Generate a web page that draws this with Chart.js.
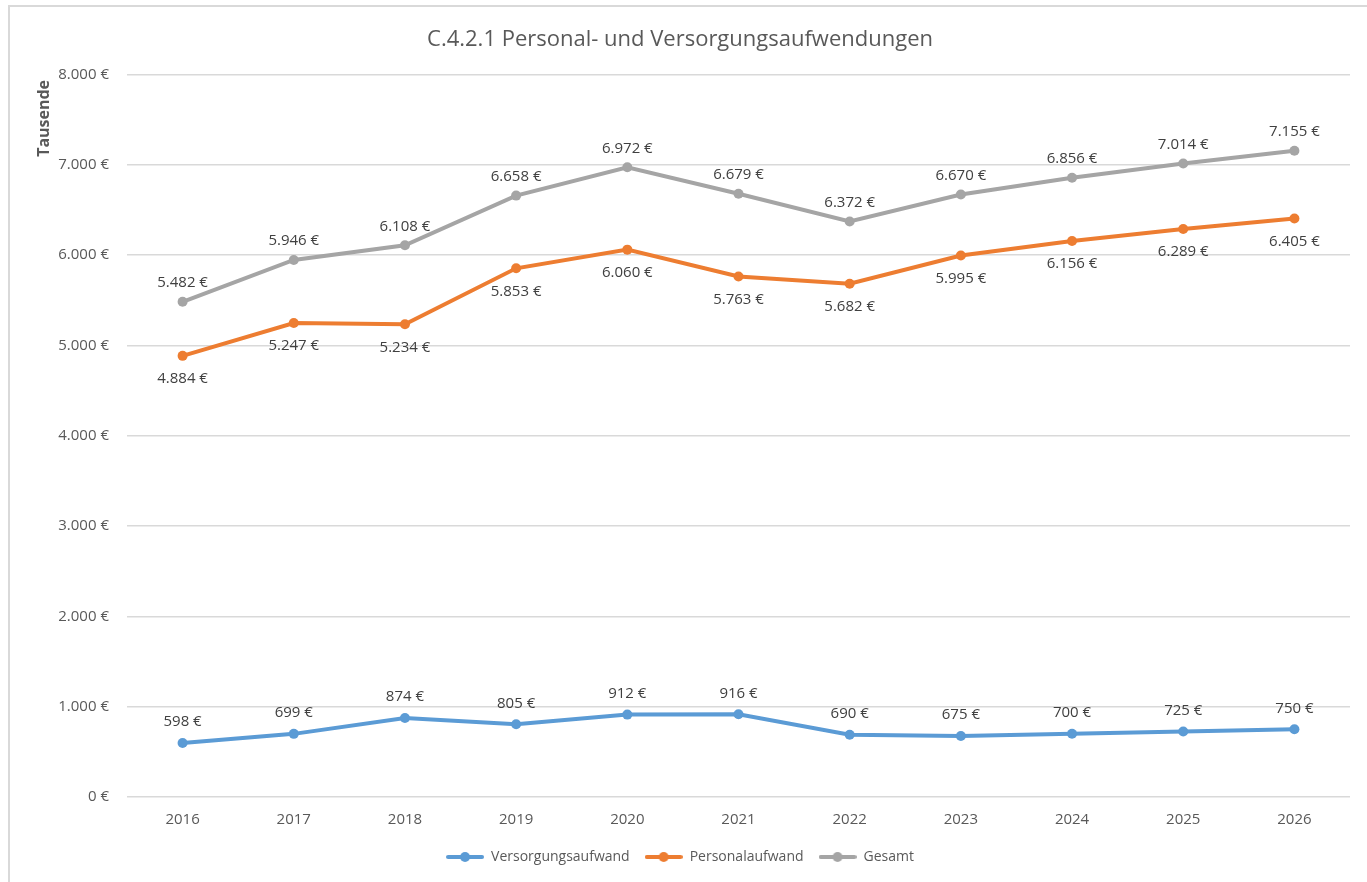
<!DOCTYPE html>
<html>
<head>
<meta charset="utf-8">
<script src="https://cdn.jsdelivr.net/npm/chart.js@4.4.1/dist/chart.umd.min.js"></script>
<style>
  body { margin: 0; background: #fff; overflow: hidden; }
  #chart-con {
    position: absolute; left: 8px; top: 5px;
    width: 1359px; height: 877px;
    border-left: 2px solid #d9d9d9; border-top: 2px solid #d9d9d9;
  }
</style>
</head>
<body>
<div id="chart-con"><canvas id="my-chart"></canvas></div>
<script>
// data (in thousand euro)
const years = ['2016', '2017', '2018', '2019', '2020', '2021', '2022', '2023', '2024', '2025', '2026'];
const versorgungsaufwand = [598, 699, 874, 805, 912, 916, 690, 675, 700, 725, 750];
const personalaufwand = [4884, 5247, 5234, 5853, 6060, 5763, 5682, 5995, 6156, 6289, 6405];
const gesamt = [5482, 5946, 6108, 6658, 6972, 6679, 6372, 6670, 6856, 7014, 7155];

const FONT = "'Open Sans', sans-serif";
const TEXT = '#595959';

function euro(v) {
    return String(v).replace(/\B(?=(\d{3})+(?!\d))/g, '.') + ' €';
}

// little line-with-dot icon for the legend
function legendIcon(color) {
    const c = document.createElement('canvas');
    c.width = 38; c.height = 12;
    const ctx = c.getContext('2d');
    ctx.strokeStyle = color;
    ctx.lineWidth = 4;
    ctx.lineCap = 'round';
    ctx.beginPath();
    ctx.moveTo(2, 6); ctx.lineTo(36, 6);
    ctx.stroke();
    ctx.fillStyle = color;
    ctx.beginPath();
    ctx.arc(19, 6, 5, 0, Math.PI * 2);
    ctx.fill();
    return c;
}

// values written next to every point + the "Tausende" axis caption
const pointLabels = {
    id: 'pointLabels',
    afterDatasetsDraw(chart) {
        const ctx = chart.ctx;
        ctx.save();
        ctx.font = '15px ' + FONT;
        ctx.fillStyle = '#404040';
        ctx.textAlign = 'center';
        ctx.textBaseline = 'middle';
        chart.data.datasets.forEach((ds, i) => {
            const meta = chart.getDatasetMeta(i);
            meta.data.forEach((pt, j) => {
                ctx.fillText(euro(ds.data[j]), pt.x, pt.y + ds.labelOffset);
            });
        });
        ctx.restore();

        // y axis caption sits near the top, like in excel
        const area = chart.chartArea;
        ctx.save();
        ctx.translate(area.left - 83, area.top + 44);
        ctx.rotate(-Math.PI / 2);
        ctx.font = 'bold 16px ' + FONT;
        ctx.fillStyle = TEXT;
        ctx.textAlign = 'center';
        ctx.textBaseline = 'middle';
        ctx.fillText('Tausende', 0, 0);
        ctx.restore();
    }
};

function makeSet(label, values, color, labelOffset) {
    return {
        label: label,
        data: values,
        borderColor: color,
        backgroundColor: color,
        borderWidth: 4,
        pointRadius: 5,
        pointHoverRadius: 5,
        pointBorderWidth: 0,
        pointStyle: 'circle',
        legendIcon: legendIcon(color),
        tension: 0,
        labelOffset: labelOffset
    };
}

const data = {
    labels: years,
    datasets: [
        makeSet('Versorgungsaufwand', versorgungsaufwand, '#5B9BD5', -21),
        makeSet('Personalaufwand', personalaufwand, '#ED7D31', 23),
        makeSet('Gesamt', gesamt, '#A5A5A5', -19)
    ]
};

const config = {
    type: 'line',
    data,
    plugins: [pointLabels],
    options: {
        responsive: true,
        maintainAspectRatio: false,
        animation: false,
        layout: { padding: { left: 0, right: 19, top: 0, bottom: 10 } },
        plugins: {
            title: {
                display: true,
                text: 'C.4.2.1 Personal- und Versorgungsaufwendungen',
                color: TEXT,
                font: { family: FONT, size: 22, weight: 'normal' },
                padding: { top: 20, bottom: 21 }
            },
            legend: {
                display: true,
                position: 'bottom',
                labels: {
                    color: TEXT,
                    font: { family: FONT, size: 14 },
                    usePointStyle: true,
                    pointStyleWidth: 38,
                    padding: 15,
                    generateLabels(chart) {
                        return chart.data.datasets.map((ds, i) => ({
                            text: ds.label,
                            pointStyle: ds.legendIcon,
                            fillStyle: ds.borderColor,
                            strokeStyle: ds.borderColor,
                            fontColor: TEXT,
                            lineWidth: 0,
                            hidden: false,
                            datasetIndex: i
                        }));
                    }
                }
            },
            tooltip: { enabled: false }
        },
        scales: {
            x: {
                offset: true,
                grid: { display: false },
                border: { display: false },
                ticks: { color: TEXT, font: { family: FONT, size: 15 }, padding: 6 }
            },
            y: {
                min: 0,
                max: 8000,
                afterFit(scale) { scale.width = 117; },
                grid: { color: '#d9d9d9', lineWidth: 1.5, drawTicks: false },
                border: { display: false },
                ticks: {
                    stepSize: 1000,
                    color: TEXT,
                    font: { family: FONT, size: 15 },
                    padding: 18,
                    callback: v => euro(v)
                }
            }
        }
    }
};

new Chart(document.getElementById('my-chart').getContext('2d'), config);
</script>
</body>
</html>
